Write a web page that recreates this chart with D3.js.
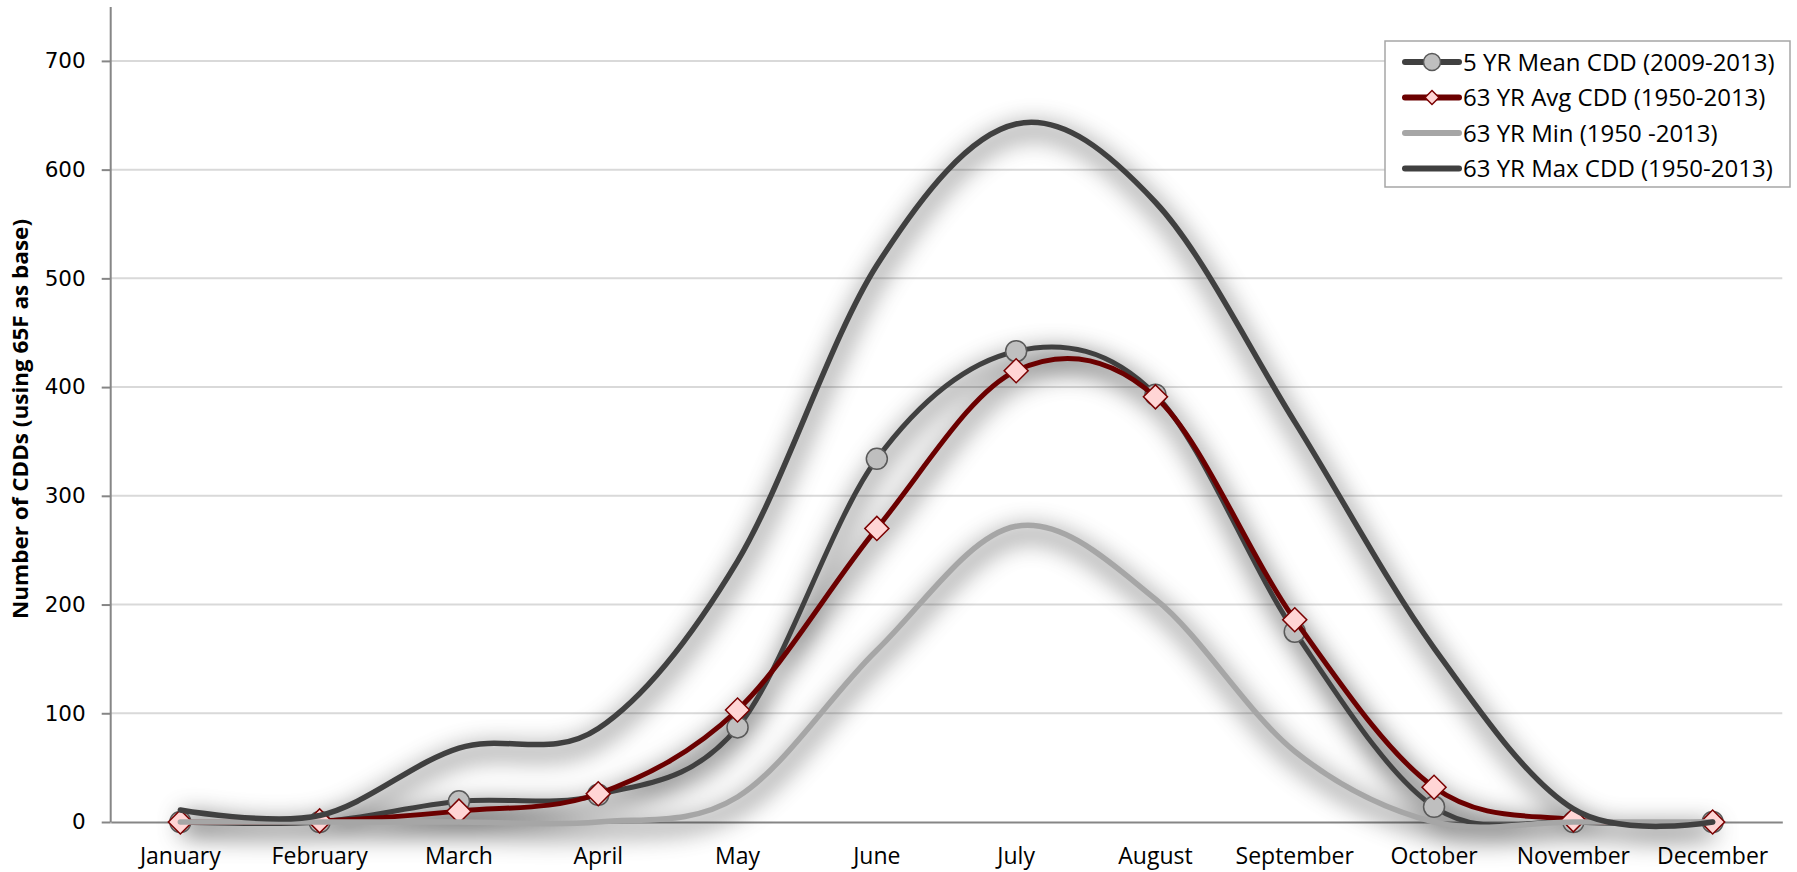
<!DOCTYPE html>
<html>
<head>
<meta charset="utf-8">
<script src="https://cdnjs.cloudflare.com/ajax/libs/d3/7.8.5/d3.min.js"></script>
<style>
body{margin:0;background:#fff;}
</style>
</head>
<body>
<div class="chart"></div>
<script>
const months = ['January','February','March','April','May','June','July','August','September','October','November','December'];
const mean5yr = [0,0,19,25,87,334,433,393,175,14,0,0];
const avg63yr = [0,1,10,26,103,270,415,391,186,32,2,0];
const min63yr = [0,0,0,0,23,158,272,205,65,0,0,0];
const max63yr = [11,6,68,86,240,512,642,570,368,160,12,0];
const seriesNames = ['5 YR Mean CDD (2009-2013)','63 YR Avg CDD (1950-2013)','63 YR Min (1950 -2013)','63 YR Max CDD (1950-2013)'];
const yTicks = [0,100,200,300,400,500,600,700];
const yTitle = 'Number of CDDs (using 65F as base)';

const series = [
    {name: seriesNames[0], values: mean5yr, color: '#404040', marker: 'circle'},
    {name: seriesNames[1], values: avg63yr, color: '#6b0000', marker: 'diamond'},
    {name: seriesNames[2], values: min63yr, color: '#a6a6a6', marker: null},
    {name: seriesNames[3], values: max63yr, color: '#404040', marker: null}
];

const width = 1797, height = 872;
const plot = {left: 110.7, right: 1782.3, top: 7, bottom: 822};

const svg = d3.select('.chart').append('svg')
    .attr('width', width)
    .attr('height', height);

// soft shadow under the lines
const defs = svg.append('defs');
const f = defs.append('filter')
    .attr('id', 'shadow')
    .attr('filterUnits', 'userSpaceOnUse')
    .attr('x', 0).attr('y', -100).attr('width', width).attr('height', height + 200);
f.append('feGaussianBlur').attr('in', 'SourceAlpha').attr('stdDeviation', 12).attr('result', 'b');
f.append('feOffset').attr('in', 'b').attr('dx', 2).attr('dy', 8).attr('result', 'o');
f.append('feFlood').attr('flood-color', '#000').attr('flood-opacity', 0.5).attr('result', 'c');
f.append('feComposite').attr('in', 'c').attr('in2', 'o').attr('operator', 'in');

let xScale = d3.scaleBand()
    .domain(months)
    .range([plot.left, plot.right])
    .padding(0);
const xc = d => xScale(d) + xScale.bandwidth() / 2;

let yScale = d3.scaleLinear()
    .domain([0, 700])
    .range([plot.bottom, 60.9]);

// gridlines
svg.append('g')
    .selectAll('line')
    .data(yTicks.filter(d => d > 0))
    .enter()
    .append('line')
    .attr('x1', plot.left)
    .attr('x2', plot.right)
    .attr('y1', d => yScale(d))
    .attr('y2', d => yScale(d))
    .attr('stroke', '#d9d9d9')
    .attr('stroke-width', 2);

// y axis
let yAxis = d3.axisLeft(yScale)
    .tickValues(yTicks)
    .tickSize(9)
    .tickPadding(16);

const yg = svg.append('g')
    .attr('class', 'axis y-axis')
    .attr('transform', `translate(${plot.left},0)`)
    .call(yAxis);
yg.select('.domain').remove();
yg.selectAll('.tick line').attr('stroke', '#868686').attr('stroke-width', 2);
yg.selectAll('.tick text')
    .attr('fill', '#000')
    .style('font-family', 'DejaVu Sans')
    .style('font-size', '21.5px');

svg.append('line')
    .attr('x1', plot.left).attr('x2', plot.left)
    .attr('y1', plot.top).attr('y2', plot.bottom)
    .attr('stroke', '#868686')
    .attr('stroke-width', 2);

// x axis
let xAxis = d3.axisBottom(xScale)
    .tickSize(0)
    .tickPadding(26);

const xg = svg.append('g')
    .attr('class', 'axis x-axis')
    .attr('transform', `translate(0,${plot.bottom})`)
    .call(xAxis);
xg.select('.domain')
    .attr('stroke', '#868686')
    .attr('stroke-width', 2);
xg.selectAll('.tick text')
    .attr('fill', '#000')
    .style('font-family', 'Open Sans')
    .style('font-size', '23px');

// y title
svg.append('text')
    .attr('transform', 'translate(28,419) rotate(-90)')
    .attr('text-anchor', 'middle')
    .attr('textLength', 400)
    .attr('lengthAdjust', 'spacingAndGlyphs')
    .style('font-family', 'Open Sans')
    .style('font-weight', 'bold')
    .style('font-size', '22px')
    .text(yTitle);

const line = d3.line()
    .x((d, i) => xc(months[i]))
    .y(d => yScale(d))
    .curve(d3.curveCardinal.tension(0));

// shadows first
svg.append('g')
    .attr('filter', 'url(#shadow)')
    .selectAll('path')
    .data(series)
    .enter()
    .append('path')
    .attr('d', d => line(d.values))
    .attr('fill', 'none')
    .attr('stroke', '#000')
    .attr('stroke-width', 12);

const diamond = size => d3.symbol().type(d3.symbolSquare).size(size)();

series.forEach(s => {
    const g = svg.append('g');
    g.append('path')
        .attr('d', line(s.values))
        .attr('fill', 'none')
        .attr('stroke', s.color)
        .attr('stroke-width', s.marker ? 5 : 5.5)
        .attr('stroke-linecap', 'round');
    if (s.marker === 'circle') {
        g.selectAll('circle')
            .data(s.values)
            .enter()
            .append('circle')
            .attr('cx', (d, i) => xc(months[i]))
            .attr('cy', d => yScale(d))
            .attr('r', 10.5)
            .attr('fill', '#bfbfbf')
            .attr('stroke', '#595959')
            .attr('stroke-width', 1.5);
    } else if (s.marker === 'diamond') {
        g.selectAll('.dm')
            .data(s.values)
            .enter()
            .append('path')
            .attr('class', 'dm')
            .attr('d', diamond(289))
            .attr('transform', (d, i) => `translate(${xc(months[i])},${yScale(d)}) rotate(45)`)
            .attr('fill', '#ffd5d5')
            .attr('stroke', '#7a0000')
            .attr('stroke-width', 1.5);
    }
});

// legend
const legend = svg.append('g');
legend.append('rect')
    .attr('x', 1385)
    .attr('y', 41)
    .attr('width', 405)
    .attr('height', 146)
    .attr('fill', '#fff')
    .attr('stroke', '#a6a6a6')
    .attr('stroke-width', 1.5);

const rows = legend.selectAll('.row')
    .data(series)
    .enter()
    .append('g')
    .attr('class', 'row')
    .attr('transform', (d, i) => `translate(0,${62 + 35.5 * i})`);

rows.append('line')
    .attr('x1', 1405).attr('x2', 1459)
    .attr('y1', 0).attr('y2', 0)
    .attr('stroke', d => d.color)
    .attr('stroke-width', 6)
    .attr('stroke-linecap', 'round');

rows.filter(d => d.marker === 'circle')
    .append('circle')
    .attr('cx', 1432).attr('cy', 0)
    .attr('r', 8.5)
    .attr('fill', '#bfbfbf')
    .attr('stroke', '#595959')
    .attr('stroke-width', 1.5);

rows.filter(d => d.marker === 'diamond')
    .append('path')
    .attr('d', diamond(98))
    .attr('transform', 'translate(1432,0) rotate(45)')
    .attr('fill', '#ffd5d5')
    .attr('stroke', '#7a0000')
    .attr('stroke-width', 1.5);

rows.append('text')
    .attr('x', 1463)
    .attr('y', 0)
    .attr('dy', '0.36em')
    .style('font-family', 'Open Sans')
    .style('font-size', '24px')
    .text(d => d.name);
</script>
</body>
</html>
